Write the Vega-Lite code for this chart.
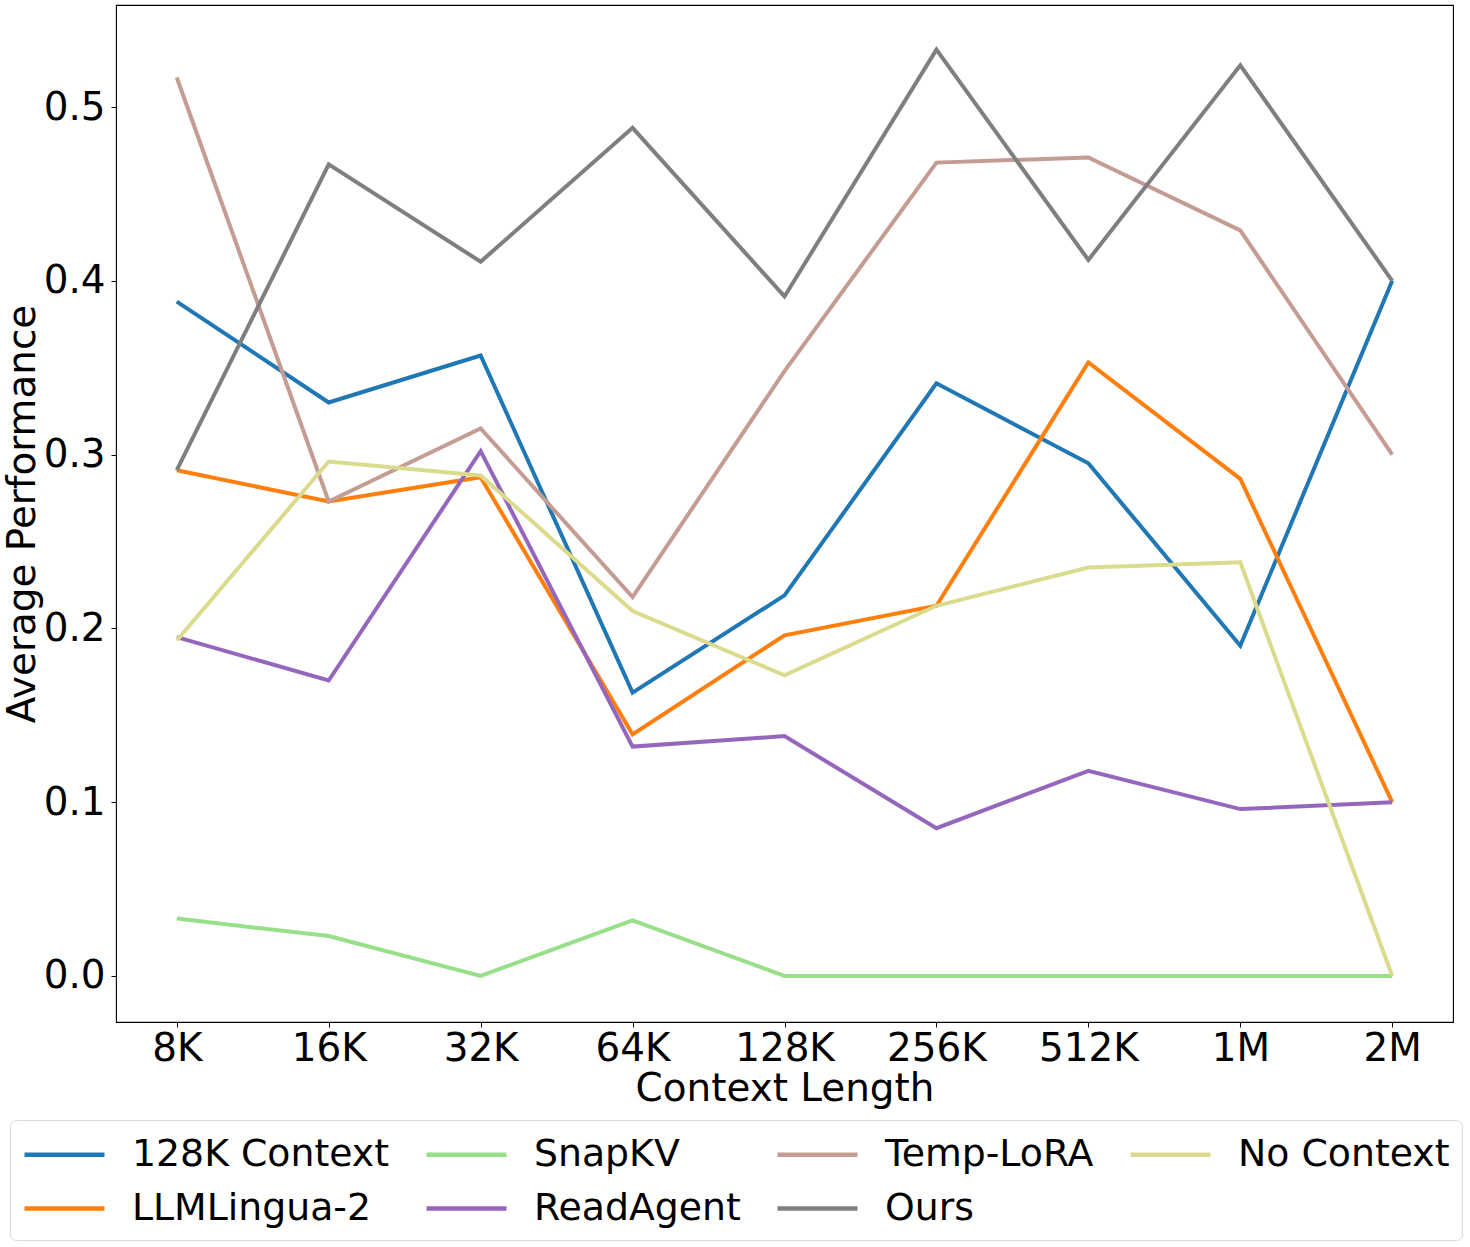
{
  "$schema": "https://vega.github.io/schema/vega-lite/v6.json",
  "width": 1337,
  "height": 1017,
  "autosize": {"type": "none"},
  "padding": {"left": 116, "top": 5, "right": 17, "bottom": 225},
  "background": "white",
  "config": {
    "font": "DejaVu Sans",
    "view": {"stroke": "black", "strokeWidth": 1.1}
  },
  "data": {
    "values": [
      {"method": "128K Context", "ctx": "8K", "perf": 0.388},
      {"method": "128K Context", "ctx": "16K", "perf": 0.330},
      {"method": "128K Context", "ctx": "32K", "perf": 0.357},
      {"method": "128K Context", "ctx": "64K", "perf": 0.163},
      {"method": "128K Context", "ctx": "128K", "perf": 0.219},
      {"method": "128K Context", "ctx": "256K", "perf": 0.341},
      {"method": "128K Context", "ctx": "512K", "perf": 0.295},
      {"method": "128K Context", "ctx": "1M", "perf": 0.190},
      {"method": "128K Context", "ctx": "2M", "perf": 0.400},
      {"method": "LLMLingua-2", "ctx": "8K", "perf": 0.291},
      {"method": "LLMLingua-2", "ctx": "16K", "perf": 0.273},
      {"method": "LLMLingua-2", "ctx": "32K", "perf": 0.287},
      {"method": "LLMLingua-2", "ctx": "64K", "perf": 0.139},
      {"method": "LLMLingua-2", "ctx": "128K", "perf": 0.196},
      {"method": "LLMLingua-2", "ctx": "256K", "perf": 0.213},
      {"method": "LLMLingua-2", "ctx": "512K", "perf": 0.353},
      {"method": "LLMLingua-2", "ctx": "1M", "perf": 0.286},
      {"method": "LLMLingua-2", "ctx": "2M", "perf": 0.100},
      {"method": "SnapKV", "ctx": "8K", "perf": 0.033},
      {"method": "SnapKV", "ctx": "16K", "perf": 0.023},
      {"method": "SnapKV", "ctx": "32K", "perf": 0.0},
      {"method": "SnapKV", "ctx": "64K", "perf": 0.032},
      {"method": "SnapKV", "ctx": "128K", "perf": 0.0},
      {"method": "SnapKV", "ctx": "256K", "perf": 0.0},
      {"method": "SnapKV", "ctx": "512K", "perf": 0.0},
      {"method": "SnapKV", "ctx": "1M", "perf": 0.0},
      {"method": "SnapKV", "ctx": "2M", "perf": 0.0},
      {"method": "ReadAgent", "ctx": "8K", "perf": 0.195},
      {"method": "ReadAgent", "ctx": "16K", "perf": 0.170},
      {"method": "ReadAgent", "ctx": "32K", "perf": 0.302},
      {"method": "ReadAgent", "ctx": "64K", "perf": 0.132},
      {"method": "ReadAgent", "ctx": "128K", "perf": 0.138},
      {"method": "ReadAgent", "ctx": "256K", "perf": 0.085},
      {"method": "ReadAgent", "ctx": "512K", "perf": 0.118},
      {"method": "ReadAgent", "ctx": "1M", "perf": 0.096},
      {"method": "ReadAgent", "ctx": "2M", "perf": 0.100},
      {"method": "Temp-LoRA", "ctx": "8K", "perf": 0.517},
      {"method": "Temp-LoRA", "ctx": "16K", "perf": 0.273},
      {"method": "Temp-LoRA", "ctx": "32K", "perf": 0.315},
      {"method": "Temp-LoRA", "ctx": "64K", "perf": 0.218},
      {"method": "Temp-LoRA", "ctx": "128K", "perf": 0.348},
      {"method": "Temp-LoRA", "ctx": "256K", "perf": 0.468},
      {"method": "Temp-LoRA", "ctx": "512K", "perf": 0.471},
      {"method": "Temp-LoRA", "ctx": "1M", "perf": 0.429},
      {"method": "Temp-LoRA", "ctx": "2M", "perf": 0.300},
      {"method": "Ours", "ctx": "8K", "perf": 0.291},
      {"method": "Ours", "ctx": "16K", "perf": 0.467},
      {"method": "Ours", "ctx": "32K", "perf": 0.411},
      {"method": "Ours", "ctx": "64K", "perf": 0.488},
      {"method": "Ours", "ctx": "128K", "perf": 0.391},
      {"method": "Ours", "ctx": "256K", "perf": 0.533},
      {"method": "Ours", "ctx": "512K", "perf": 0.412},
      {"method": "Ours", "ctx": "1M", "perf": 0.524},
      {"method": "Ours", "ctx": "2M", "perf": 0.400},
      {"method": "No Context", "ctx": "8K", "perf": 0.193},
      {"method": "No Context", "ctx": "16K", "perf": 0.296},
      {"method": "No Context", "ctx": "32K", "perf": 0.288},
      {"method": "No Context", "ctx": "64K", "perf": 0.210},
      {"method": "No Context", "ctx": "128K", "perf": 0.173},
      {"method": "No Context", "ctx": "256K", "perf": 0.213},
      {"method": "No Context", "ctx": "512K", "perf": 0.235},
      {"method": "No Context", "ctx": "1M", "perf": 0.238},
      {"method": "No Context", "ctx": "2M", "perf": 0.0}
    ]
  },
  "mark": {"type": "line", "strokeWidth": 4},
  "encoding": {
    "x": {
      "field": "ctx",
      "type": "ordinal",
      "sort": ["8K", "16K", "32K", "64K", "128K", "256K", "512K", "1M", "2M"],
      "scale": {"type": "point", "padding": 0.4},
      "axis": {
        "title": "Context Length",
        "titleFontSize": 38.9,
        "titleFontWeight": "normal",
        "titleColor": "black",
        "titlePadding": 2,
        "labelFontSize": 38.9,
        "labelColor": "black",
        "labelAngle": 0,
        "labelPadding": 2,
        "tickSize": 5,
        "tickColor": "black",
        "domain": false,
        "grid": false
      }
    },
    "y": {
      "field": "perf",
      "type": "quantitative",
      "scale": {"domain": [-0.0265, 0.5587], "nice": false, "zero": false},
      "axis": {
        "title": "Average Performance",
        "values": [0, 0.1, 0.2, 0.3, 0.4, 0.5],
        "format": ".1f",
        "titleFontSize": 38.9,
        "titleFontWeight": "normal",
        "titleColor": "black",
        "titlePadding": 1,
        "labelFontSize": 38.9,
        "labelColor": "black",
        "labelPadding": 6,
        "tickSize": 5,
        "tickColor": "black",
        "domain": false,
        "grid": false
      }
    },
    "color": {
      "field": "method",
      "type": "nominal",
      "scale": {
        "domain": ["128K Context", "SnapKV", "Temp-LoRA", "No Context", "LLMLingua-2", "ReadAgent", "Ours"],
        "range": ["#1f77b4", "#98df8a", "#c49c94", "#dbdb8d", "#ff7f0e", "#9467bd", "#7f7f7f"]
      },
      "legend": {
        "orient": "none",
        "legendX": -106,
        "legendY": 1115,
        "columns": 4,
        "direction": "horizontal",
        "title": null,
        "symbolType": "M-1,0H3",
        "symbolSize": 1600,
        "symbolStrokeWidth": 4.5,
        "symbolFillColor": "transparent",
        "labelFontSize": 37.8,
        "labelColor": "black",
        "labelOffset": 65,
        "labelLimit": 0,
        "columnPadding": 27,
        "rowPadding": 12,
        "padding": 12,
        "strokeColor": "#d9d9d9",
        "fillColor": "white",
        "cornerRadius": 6
      }
    }
  }
}
